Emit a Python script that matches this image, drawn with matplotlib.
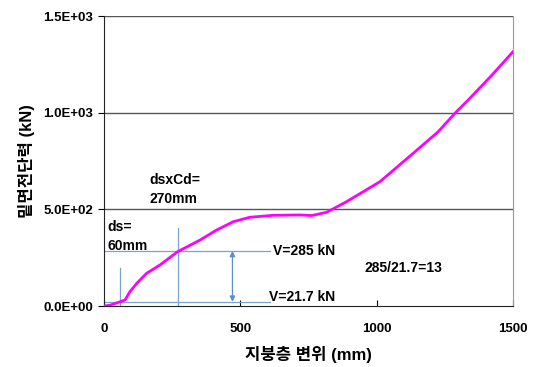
import numpy as np
import matplotlib.pyplot as plt

plt.rcParams['font.family'] = ['Liberation Sans', 'Noto Sans CJK KR', 'DejaVu Sans']

# pushover curve
disp = [0, 22, 77, 95, 120, 156, 205, 270, 352, 413, 474, 535, 619, 718, 762,
        817, 890, 1012, 1134, 1226, 1287, 1336, 1420, 1500]
shear = [0, 4, 31, 74, 117, 169, 212, 281, 341, 393, 436, 459, 469, 471, 468,
         485, 540, 643, 790, 902, 997, 1066, 1190, 1315]

ds = 60
ds_cd = 270
v_yield = 285
v_first = 21.7

fig = plt.figure(figsize=(5.37, 3.67), dpi=100)
ax = fig.add_axes([0.1937, 0.1662, 0.7616, 0.7902])

ax.set_xlim(0, 1500)
ax.set_ylim(0, 1500)

for yv in [500, 1000, 1500]:
    ax.axhline(yv, color='#555555', lw=1.0, zorder=1)

lc = '#7ba3d0'
ax.plot([0, 609], [v_yield, v_yield], color=lc, lw=0.9, zorder=2)
ax.plot([0, 609], [v_first, v_first], color=lc, lw=0.9, zorder=2)
ax.plot([ds_cd, ds_cd], [0, 405], color=lc, lw=0.9, zorder=2)
ax.plot([ds, ds], [0, 195], color=lc, lw=0.9, zorder=2)
ax.annotate('', xy=(471, v_yield), xytext=(471, v_first),
            arrowprops=dict(arrowstyle='<|-|>', color='#5b8fc9', lw=0.9,
                            mutation_scale=8, shrinkA=0, shrinkB=0))

ax.plot(disp, shear, color='#ff00ff', lw=2.0, zorder=3)

tk = dict(fontsize=10, fontweight='bold')
ax.text(165, 690, 'dsxCd=\n270mm', va='top', ha='left', linespacing=1.5, **tk)
ax.text(12, 447, 'ds=\n60mm', va='top', ha='left', linespacing=1.5, **tk)
ax.text(620, v_yield, 'V=285 kN', va='center', ha='left', **tk)
ax.text(605, 45, 'V=21.7 kN', va='center', ha='left', **tk)
ax.text(955, 196, '285/21.7=13', va='center', ha='left', **tk)

ax.set_xticks([0, 500, 1000, 1500])
ax.set_xticklabels(['0', '500', '1000', '1500'], fontsize=9.5, fontweight='bold')
ax.set_yticks([0, 500, 1000, 1500])
ax.set_yticklabels(['0.0E+00', '5.0E+02', '1.0E+03', '1.5E+03'], fontsize=9.5, fontweight='bold')
ax.tick_params(axis='x', direction='in', length=4, pad=12)
ax.tick_params(axis='y', direction='out', length=4, pad=4)

ax.spines['top'].set_visible(False)
ax.spines['right'].set_color('#999999')
ax.spines['left'].set_color('#222222')
ax.spines['bottom'].set_color('#222222')

ax.set_xlabel('지붕층 변위 (mm)', fontsize=12, fontweight='bold', labelpad=8)
ax.set_ylabel('밑면전단력 (kN)', fontsize=12, fontweight='bold', labelpad=6)

fig.savefig('out.png', dpi=100)
